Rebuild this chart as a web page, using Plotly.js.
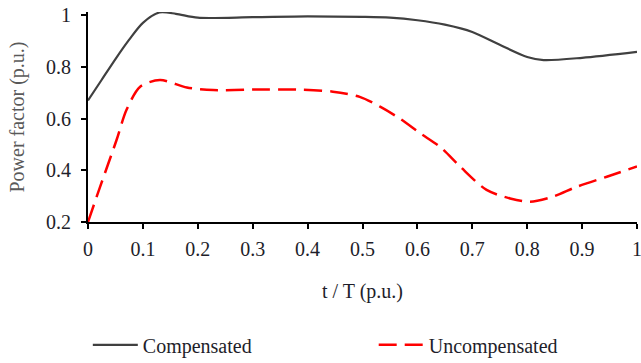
<!DOCTYPE html>
<html>
<head>
<meta charset="utf-8">
<script src="https://cdn.plot.ly/plotly-3.0.1.min.js"></script>
<style>
  html, body { margin: 0; padding: 0; background: #fff; }
  #chart { width: 641px; height: 363px; }
</style>
</head>
<body>
<div id="chart"></div>
<script>
// Power factor over one period, with and without compensation
const tComp = [0, 0.025, 0.05, 0.075, 0.1, 0.13, 0.16, 0.2, 0.3, 0.4, 0.5, 0.55, 0.6, 0.65, 0.7, 0.75, 0.8, 0.83, 0.9, 1.0];
const pfComp = [0.67, 0.75, 0.83, 0.905, 0.97, 1.01, 1.005, 0.99, 0.992, 0.995, 0.993, 0.99, 0.98, 0.963, 0.935, 0.885, 0.838, 0.826, 0.835, 0.858];

const tUncomp = [0, 0.022, 0.052, 0.07, 0.095, 0.131, 0.18, 0.228, 0.3, 0.38, 0.446, 0.495, 0.532, 0.568, 0.605, 0.641, 0.678, 0.726, 0.769, 0.805, 0.847, 0.89, 0.945, 1.0];
const pfUncomp = [0.2, 0.336, 0.517, 0.633, 0.723, 0.749, 0.72, 0.71, 0.712, 0.712, 0.704, 0.684, 0.646, 0.60, 0.543, 0.491, 0.414, 0.324, 0.291, 0.278, 0.298, 0.336, 0.375, 0.415];

const xTicks = [0, 0.1, 0.2, 0.3, 0.4, 0.5, 0.6, 0.7, 0.8, 0.9, 1];
const xTickText = ['0', '0.1', '0.2', '0.3', '0.4', '0.5', '0.6', '0.7', '0.8', '0.9', '1'];
const yTicks = [0.2, 0.4, 0.6, 0.8, 1];
const yTickText = ['0.2', '0.4', '0.6', '0.8', '1'];

const serif = "'Liberation Serif', 'Times New Roman', Times, serif";
const ink = '#1e1e2a';
const fs = 20;

const traces = [
  {
    x: tComp, y: pfComp, name: 'Compensated', type: 'scatter', mode: 'lines',
    legend: 'legend',
    line: { color: '#404040', width: 2.2, shape: 'spline', smoothing: 0.8 }
  },
  {
    x: tUncomp, y: pfUncomp, name: 'Uncompensated', type: 'scatter', mode: 'lines',
    legend: 'legend2',
    line: { color: '#ff0000', width: 2.5, shape: 'spline', smoothing: 0.8, dash: '18px,8px' }
  }
];

// legends sit in the bottom strip, placed relative to the whole figure
const legendBase = {
  orientation: 'h', xref: 'container', yref: 'container',
  yanchor: 'middle', xanchor: 'left', itemwidth: 45,
  bgcolor: 'rgba(0,0,0,0)', font: { family: serif, size: fs, color: ink }
};

const layout = {
  width: 641, height: 363,
  margin: { l: 88, r: 4, t: 12, b: 141, autoexpand: false },
  paper_bgcolor: '#ffffff', plot_bgcolor: '#ffffff',
  font: { family: serif, size: fs, color: ink },
  showlegend: true,
  legend: Object.assign({}, legendBase, { x: 0.137, y: 0.05 }),
  legend2: Object.assign({}, legendBase, { x: 0.583, y: 0.05 }),
  xaxis: {
    range: [0, 1], tickvals: xTicks, ticktext: xTickText,
    showgrid: false, zeroline: false, showline: true, linecolor: '#000', linewidth: 2,
    ticks: 'outside', ticklen: 5, tickwidth: 2, tickcolor: '#000',
    ticklabelstandoff: 3, ticklabeloverflow: 'allow',
    tickfont: { family: serif, size: fs, color: ink },
    title: { text: 't / T (p.u.)', font: { family: serif, size: fs, color: ink }, standoff: 25 },
    automargin: false
  },
  yaxis: {
    range: [0.2, 1.012], tickvals: yTicks, ticktext: yTickText,
    showgrid: false, zeroline: false, showline: true, linecolor: '#000', linewidth: 2,
    ticks: 'outside', ticklen: 5, tickwidth: 2, tickcolor: '#000',
    ticklabelstandoff: 6, ticklabeloverflow: 'allow',
    tickfont: { family: serif, size: fs, color: ink },
    title: { text: 'Power factor (p.u.)', font: { family: serif, size: fs, color: '#595959' }, standoff: 16 },
    automargin: false
  }
};

Plotly.newPlot('chart', traces, layout, { staticPlot: true, displayModeBar: false });
</script>
</body>
</html>
